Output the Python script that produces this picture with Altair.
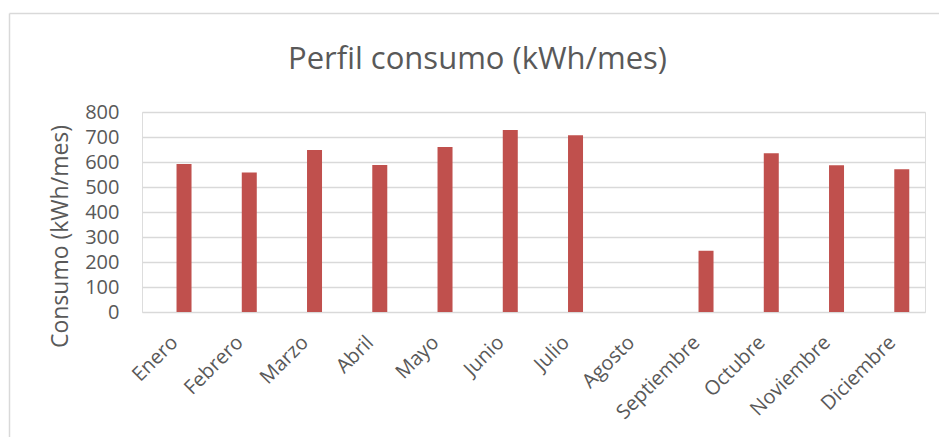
import altair as alt
import pandas as pd

# Monthly electricity consumption profile
meses = ["Enero", "Febrero", "Marzo", "Abril", "Mayo", "Junio",
         "Julio", "Agosto", "Septiembre", "Octubre", "Noviembre", "Diciembre"]
consumo = [592, 558, 648, 588, 660, 728, 707, 0, 245, 635, 587, 571]

df = pd.DataFrame({"mes": meses, "consumo": consumo})

FONT = "Open Sans"
TEXT = "#595959"
GRID = "#D9D9D9"

bars = alt.Chart(df).mark_bar(color="#C0504D", width=15, xOffset=9.4).encode(
    x=alt.X(
        "mes:N",
        sort=meses,
        scale=alt.Scale(paddingInner=0, paddingOuter=0),
        axis=alt.Axis(
            title=None, labelAngle=-45, labelFontSize=20, labelColor=TEXT,
            labelFont=FONT, ticks=False, domain=False, grid=False,
            labelPadding=20, labelOffset=-7,
        ),
    ),
    y=alt.Y(
        "consumo:Q",
        scale=alt.Scale(domain=[0, 800], nice=False),
        axis=alt.Axis(
            title="Consumo (kWh/mes)", values=list(range(0, 801, 100)),
            labelFontSize=20, labelColor=TEXT, labelFont=FONT,
            labelPadding=23, ticks=False, domain=False,
            grid=True, gridColor=GRID, gridWidth=1.5,
            titleFont=FONT, titleFontSize=23, titleColor=TEXT,
            titleFontWeight="normal", titleAngle=-90,
            titleX=-82, titleY=124, titleAlign="center", titleBaseline="middle",
        ),
    ),
)

# light chart-area frame (left and top edges)
frame_df = pd.DataFrame({"k": [0]})
frame_left = alt.Chart(frame_df).mark_rule(color=GRID, strokeWidth=1.5).encode(
    x=alt.value(-132.5), y=alt.value(-98.5), y2=alt.value(340)
)
frame_top = alt.Chart(frame_df).mark_rule(color=GRID, strokeWidth=1.5).encode(
    x=alt.value(-132.5), x2=alt.value(810), y=alt.value(-98.5)
)

chart = alt.layer(bars, frame_left, frame_top).properties(
    width=783,
    height=200,
    title=alt.TitleParams(
        "Perfil consumo (kWh/mes)", font=FONT, fontSize=31, color=TEXT,
        fontWeight="normal", anchor="middle", frame="group", dx=-56,
        baseline="alphabetic", offset=-87,
    ),
    autosize=alt.AutoSizeParams(type="none"),
    padding={"left": 142, "top": 112, "right": 14, "bottom": 125},
).configure_view(stroke=None).configure(background="white")

chart.save("out.html", embed_options={"renderer": "svg", "actions": False})
